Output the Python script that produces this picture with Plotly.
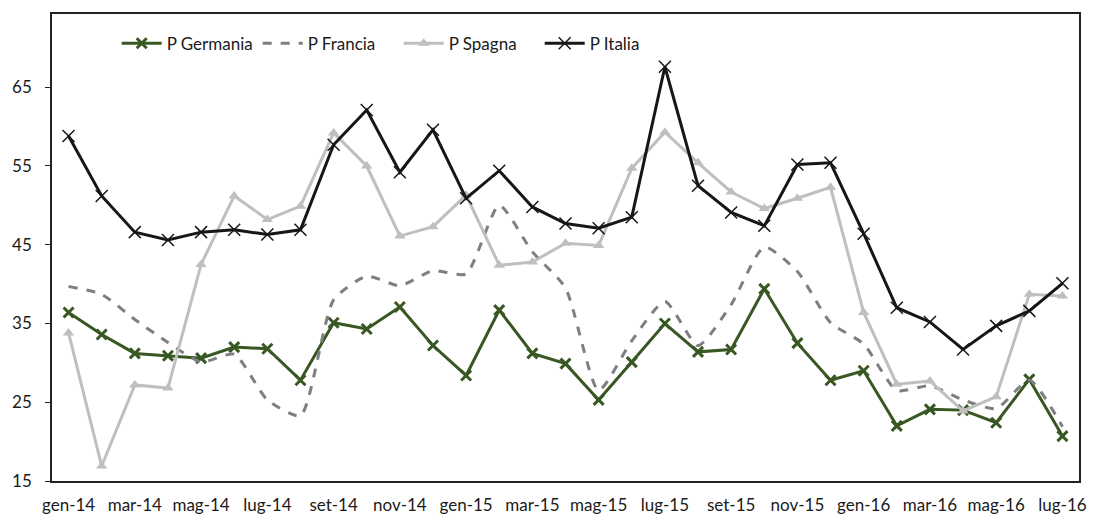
import plotly.graph_objects as go

months = ["gen-14", "feb-14", "mar-14", "apr-14", "mag-14", "giu-14", "lug-14", "ago-14",
          "set-14", "ott-14", "nov-14", "dic-14", "gen-15", "feb-15", "mar-15", "apr-15",
          "mag-15", "giu-15", "lug-15", "ago-15", "set-15", "ott-15", "nov-15", "dic-15",
          "gen-16", "feb-16", "mar-16", "apr-16", "mag-16", "giu-16", "lug-16"]

germania = [36.4, 33.6, 31.2, 30.9, 30.6, 32.0, 31.8, 27.8, 35.1, 34.3, 37.1, 32.2, 28.4, 36.7,
            31.2, 29.9, 25.3, 30.1, 35.0, 31.4, 31.7, 39.4, 32.5, 27.8, 29.0, 22.0, 24.1, 24.0,
            22.4, 27.9, 20.7]
francia = [39.7, 38.7, 35.5, 32.6, 30.1, 31.1, 25.3, 23.3, 38.0, 41.0, 39.8, 41.7, 41.3, 50.0,
           44.1, 39.5, 26.5, 32.8, 37.8, 32.2, 37.4, 44.7, 41.6, 35.1, 32.4, 26.5, 27.1, 25.3,
           24.2, 27.8, 21.9]
spagna = [33.8, 16.9, 27.2, 26.8, 42.5, 51.2, 48.2, 49.9, 59.2, 55.0, 46.1, 47.3, 51.3, 42.4,
          42.8, 45.2, 44.9, 54.7, 59.3, 55.4, 51.7, 49.6, 50.9, 52.3, 36.4, 27.3, 27.7, 23.9,
          25.7, 38.7, 38.5]
italia = [58.8, 51.2, 46.6, 45.6, 46.6, 46.9, 46.3, 46.9, 57.7, 62.1, 54.2, 59.6, 50.9, 54.4,
          49.8, 47.7, 47.1, 48.5, 67.6, 52.5, 49.1, 47.4, 55.2, 55.4, 46.4, 37.0, 35.2, 31.7,
          34.7, 36.6, 40.1]

y_ticks = [15, 25, 35, 45, 55, 65]

x = list(range(len(months)))
tick_idx = x[::2]
tick_txt = [months[i] for i in tick_idx]

fig = go.Figure()

fig.add_trace(go.Scatter(
    x=x, y=germania, name="P Germania", mode="lines+markers",
    line=dict(color="#385723", width=3),
    marker=dict(symbol="x-thin", size=10, line=dict(color="#385723", width=3)),
))
fig.add_trace(go.Scatter(
    x=x, y=francia, name="P Francia", mode="lines",
    line=dict(color="#7f7f7f", width=3, dash="dash", shape="spline", smoothing=0.6),
))
fig.add_trace(go.Scatter(
    x=x, y=spagna, name="P Spagna", mode="lines+markers",
    line=dict(color="#bfbfbf", width=3),
    marker=dict(symbol="triangle-up", size=10, color="#bfbfbf"),
))
fig.add_trace(go.Scatter(
    x=x, y=italia, name="P Italia", mode="lines+markers",
    line=dict(color="#161616", width=3),
    marker=dict(symbol="x-thin", size=12, line=dict(color="#161616", width=1.5)),
))

fig.update_layout(
    width=1099, height=527,
    margin=dict(l=50, r=12, t=13, b=42),
    paper_bgcolor="white", plot_bgcolor="white",
    font=dict(family="Lato, 'Open Sans', sans-serif", size=17, color="#1a1a1a"),
    showlegend=True,
    legend=dict(
        orientation="h", x=0.063, y=0.975, xanchor="left", yanchor="top",
        bgcolor="rgba(0,0,0,0)", font=dict(size=17),
        itemwidth=40, entrywidth=86, tracegroupgap=0,
    ),
    xaxis=dict(
        range=[-0.5, len(months) - 0.5],
        tickmode="array", tickvals=tick_idx, ticktext=tick_txt,
        showgrid=False, zeroline=False,
        showline=True, linecolor="#222222", linewidth=2, mirror=True,
        ticks="", tickfont=dict(size=17), ticklabelstandoff=8,
    ),
    yaxis=dict(
        range=[15, 74.3],
        tickmode="array", tickvals=y_ticks,
        showgrid=False, zeroline=False,
        showline=True, linecolor="#222222", linewidth=1.5, mirror=True,
        ticks="outside", ticklen=5, tickcolor="#222222", tickwidth=1,
        tickfont=dict(size=17), ticklabelstandoff=10,
    ),
)

fig.write_html("out.html")
